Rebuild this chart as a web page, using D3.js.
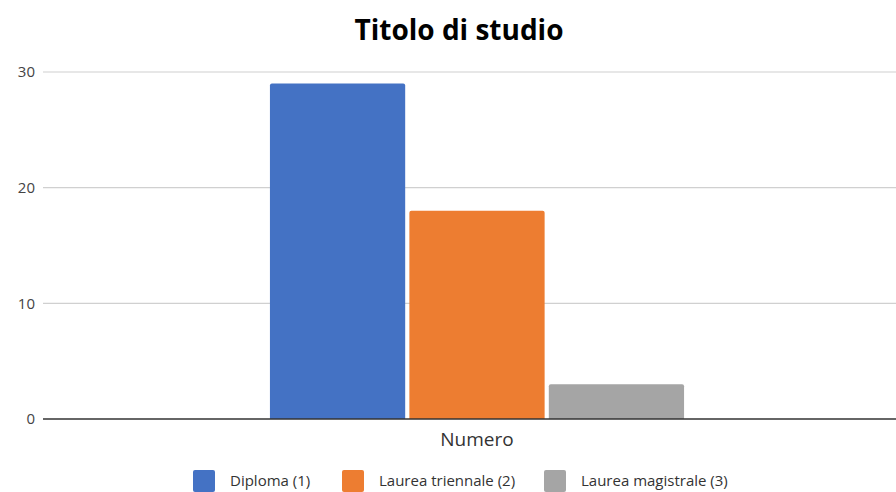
<!DOCTYPE html>
<html>
<head>
<meta charset="utf-8">
<script src="https://cdn.jsdelivr.net/npm/d3@7"></script>
<style>
  body { margin: 0; background: #fff; }
  svg { display: block; font-family: "Open Sans", "Noto Sans", sans-serif; }
</style>
</head>
<body>
<svg id="chart" width="896" height="492"></svg>
<script>
var categories = ["Numero"];
var seriesNames = ["Diploma (1)", "Laurea triennale (2)", "Laurea magistrale (3)"];
var seriesValues = [29, 18, 3];
var seriesColors = ["#4472C4", "#ED7D31", "#A5A5A5"];
var yTicks = [0, 10, 20, 30];

var svg = d3.select("#chart");
var width = 896, height = 492;
var plotLeft = 43, plotRight = 911, plotTop = 72, plotBottom = 419;

// title
svg.append("text")
    .attr("x", 459)
    .attr("y", 40)
    .attr("text-anchor", "middle")
    .attr("font-size", "28px")
    .attr("font-weight", "bold")
    .attr("fill", "#000")
    .text("Titolo di studio");

var y = d3.scaleLinear().domain([0, 30]).range([plotBottom, plotTop]);
var x0 = d3.scaleBand().domain(categories).range([plotLeft, plotRight]).paddingInner(0).paddingOuter(0.548);
var x1 = d3.scaleBand().domain(seriesNames).range([0, x0.bandwidth()]).paddingInner(0.03);

// grid lines
svg.append("g").selectAll("line").data(yTicks.filter(function (d) { return d > 0; })).enter()
    .append("line")
    .attr("x1", plotLeft)
    .attr("x2", width)
    .attr("y1", function (d) { return y(d); })
    .attr("y2", function (d) { return y(d); })
    .style("stroke", "#d0d0d0")
    .style("stroke-width", 1.2);

// tick labels
svg.append("g").selectAll("text").data(yTicks).enter()
    .append("text")
    .attr("x", 35)
    .attr("y", function (d) { return y(d); })
    .attr("dy", "0.35em")
    .attr("text-anchor", "end")
    .attr("font-size", "15px")
    .attr("fill", "#444")
    .text(function (d) { return d; });

// bars
var group = svg.append("g").selectAll("g").data(categories).enter()
    .append("g")
    .attr("transform", function (d) { return "translate(" + x0(d) + ",0)"; });

group.selectAll("path").data(seriesValues).enter()
    .append("path")
    .attr("d", function (d, i) {
        var bx = x1(seriesNames[i]), bw = x1.bandwidth(), by = y(d), r = 2;
        return "M" + bx + "," + plotBottom +
            "V" + (by + r) + "Q" + bx + "," + by + " " + (bx + r) + "," + by +
            "H" + (bx + bw - r) + "Q" + (bx + bw) + "," + by + " " + (bx + bw) + "," + (by + r) +
            "V" + plotBottom + "Z";
    })
    .style("fill", function (d, i) { return seriesColors[i]; });

// baseline
svg.append("line")
    .attr("x1", plotLeft)
    .attr("x2", width)
    .attr("y1", y(0))
    .attr("y2", y(0))
    .style("stroke", "#333")
    .style("stroke-width", 1.5);

// category label
svg.append("g").selectAll("text").data(categories).enter()
    .append("text")
    .attr("x", function (d) { return x0(d) + x0.bandwidth() / 2; })
    .attr("y", 446)
    .attr("text-anchor", "middle")
    .attr("font-size", "19px")
    .attr("fill", "#333")
    .text(function (d) { return d; });

// legend
var legendX = [193, 342, 544];
var legend = svg.append("g").selectAll("g").data(seriesNames).enter()
    .append("g")
    .attr("transform", function (d, i) { return "translate(" + legendX[i] + ",470)"; });
legend.append("rect")
    .attr("width", 22)
    .attr("height", 22)
    .attr("rx", 2)
    .style("fill", function (d, i) { return seriesColors[i]; });
legend.append("text")
    .attr("x", 37)
    .attr("y", 16)
    .attr("font-size", "15px")
    .attr("fill", "#333")
    .text(function (d) { return d; });
</script>
</body>
</html>
